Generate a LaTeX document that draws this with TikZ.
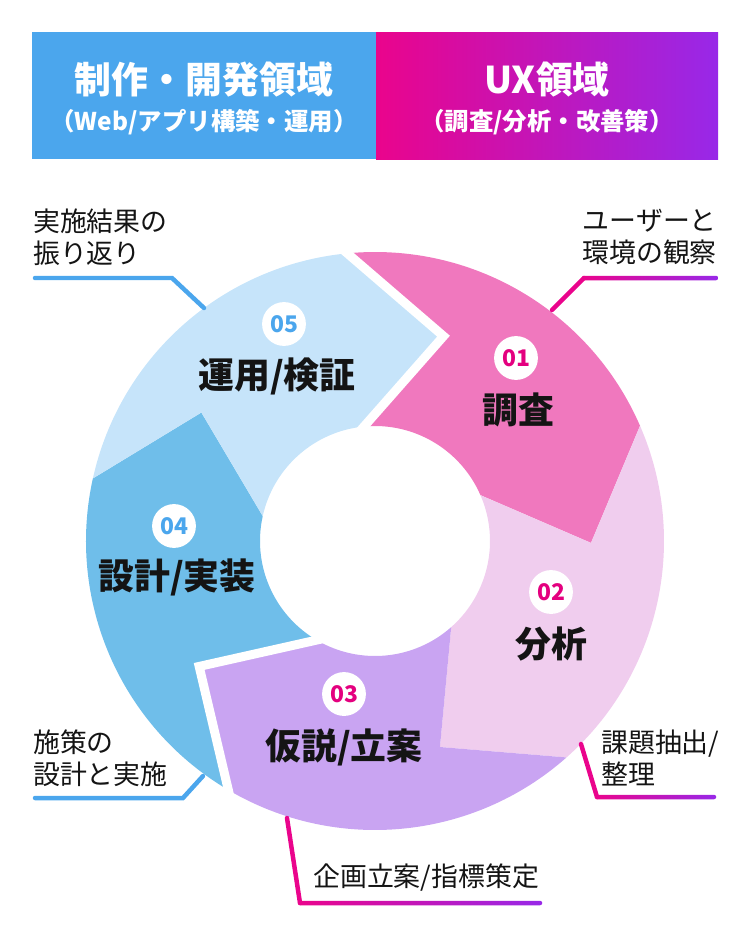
\documentclass[tikz,border=0pt]{standalone}
\usepackage{fontspec}
\setmainfont{Noto Sans CJK JP}
\usetikzlibrary{calc}
\definecolor{bannerblue}{RGB}{75,166,237}
\definecolor{gpink}{RGB}{234,4,140}
\definecolor{gmag}{RGB}{226,8,214}
\definecolor{gpurple}{RGB}{152,40,232}
\definecolor{segA}{RGB}{240,120,190}
\definecolor{segB}{RGB}{240,205,238}
\definecolor{segC}{RGB}{201,164,242}
\definecolor{segD}{RGB}{111,190,234}
\definecolor{segE}{RGB}{198,228,250}
\definecolor{nummag}{RGB}{228,0,127}
\definecolor{numblue}{RGB}{75,166,237}
\definecolor{txt}{RGB}{20,20,20}
\newcommand{\ringseg}[3]{%
  \fill[#3] ($(C)+(#1-90:289)$) arc[start angle=#1-90, end angle=#2-90, radius=289]
    -- ($(C)+(#2-66:216)$) -- ($(C)+(#2-90:115)$)
    arc[start angle=#2-90, end angle=#1-90, radius=115]
    -- ($(C)+(#1-66:216)$) -- cycle;}
\newcommand{\ringgap}[1]{%
  \coordinate (go) at ($(C)+(#1-90:289)$);
  \coordinate (gt) at ($(C)+(#1-66:216)$);
  \coordinate (gi) at ($(C)+(#1-90:115)$);
  \draw[gapline] ($(gt)!1.2!(go)$) -- (gt) -- ($(gt)!1.2!(gi)$);}
\begin{document}
\begin{tikzpicture}[x=1bp,y=-1bp,
  titletext/.style={text=white, inner sep=0, font=\fontsize{37}{40}\selectfont\bfseries},
  subtext/.style={text=white, inner sep=0, font=\fontsize{24.5}{28}\selectfont\bfseries},
  numcirc/.style={circle, fill=white, minimum size=44, inner sep=0, font=\fontsize{23}{23}\selectfont\bfseries},
  seglabel/.style={text=txt, inner sep=0, font=\fontsize{36}{38}\selectfont\bfseries},
  note/.style={text=txt, inner sep=0, font=\fontsize{27}{32}\selectfont},
  callblue/.style={draw=numblue, line width=4.5, line cap=round, line join=miter},
  callpink/.style={draw=gpink, line width=4.5, line cap=round},
  gapline/.style={draw=white, line width=9, line join=miter}]
\useasboundingbox (0,0) rectangle (750,940);
% banner
\fill[bannerblue] (32,32) rectangle (376,159);
\shade[left color=gpink, middle color=gmag, right color=gpurple] (376,32) rectangle (718,159);
\node[titletext] (tl) at (204,80) {制作・開発領域};
\node[subtext] (sl) at (204,122) {（Web/アプリ構築・運用）};
\node[titletext] (tr) at (547,80) {UX領域};
\node[subtext] (sr) at (547,122) {（調査/分析・改善策）};
% ring
\coordinate (C) at (375,541);
\ringseg{-5.5}{66.5}{segA}
\ringseg{66.5}{138.5}{segB}
\ringseg{138.5}{210.5}{segC}
\ringseg{210.5}{282.5}{segD}
\ringseg{282.5}{354.5}{segE}
\ringgap{-5.5}
\ringgap{210.5}
% numbers and labels
\node[numcirc, text=nummag] (n1) at (516,358) {01};
\node[seglabel] (l1) at (518,410) {調査};
\node[numcirc, text=nummag] (n2) at (551,592) {02};
\node[seglabel] (l2) at (551,644) {分析};
\node[numcirc, text=nummag] (n3) at (344,694) {03};
\node[seglabel] (l3) at (344,747) {仮説/立案};
\node[numcirc, text=numblue] (n4) at (174,526) {04};
\node[seglabel] (l4) at (177,577) {設計/実装};
\node[numcirc, text=numblue] (n5) at (284,324) {05};
\node[seglabel] (l5) at (277,376) {運用/検証};
% notes
\node[note, anchor=west, align=left] (a5) at (33,237) {実施結果の\\振り返り};
\node[note, anchor=east, align=right] (a1) at (717,237) {ユーザーと\\環境の観察};
\node[note, anchor=west, align=left] (a4) at (33,758) {施策の\\設計と実施};
\node[note, anchor=west, align=left] (a2) at (601,758) {課題抽出/\\整理};
\node[note, anchor=west] (a3) at (313,878) {企画立案/指標策定};
% callout lines
\coordinate (p5a) at (35,278); \coordinate (p5b) at (172,278); \coordinate (p5c) at (204,308);
\draw[callblue] (p5a) -- (p5b) -- (p5c);
\coordinate (p4a) at (35,798); \coordinate (p4b) at (183,798); \coordinate (p4c) at (203,776);
\draw[callblue] (p4a) -- (p4b) -- (p4c);
\coordinate (p1a) at (552,310); \coordinate (p1b) at (584,278); \coordinate (p1c) at (716,278);
\draw[callpink] (p1a) -- (p1b);
\shade[left color=gpink, middle color=gmag, right color=gpurple, rounded corners=2.25]
  ($(p1b)+(-2.25,-2.25)$) rectangle ($(p1c)+(2.25,2.25)$);
\coordinate (p2a) at (581,744); \coordinate (p2b) at (597,797); \coordinate (p2c) at (714,797);
\draw[callpink] (p2a) -- (p2b);
\shade[left color=gpink, middle color=gmag, right color=gpurple, rounded corners=2.25]
  ($(p2b)+(-2.25,-2.25)$) rectangle ($(p2c)+(2.25,2.25)$);
\coordinate (p3a) at (287,818); \coordinate (p3b) at (300,903); \coordinate (p3c) at (540,903);
\draw[callpink] (p3a) -- (p3b);
\shade[left color=gpink, middle color=gmag, right color=gpurple, rounded corners=2.25]
  ($(p3b)+(-2.25,-2.25)$) rectangle ($(p3c)+(2.25,2.25)$);
\end{tikzpicture}
\end{document}
